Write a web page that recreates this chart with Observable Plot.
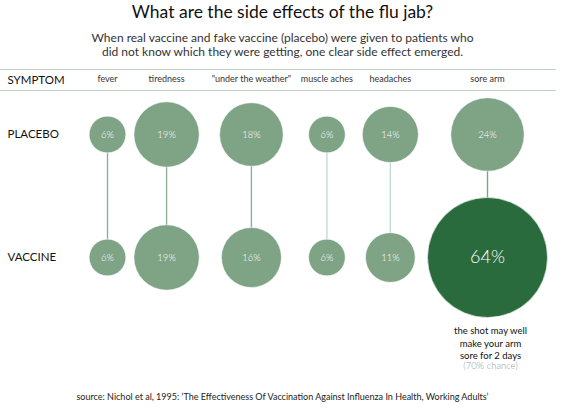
<!DOCTYPE html>
<html>
<head>
<meta charset="utf-8">
<script src="https://cdn.jsdelivr.net/npm/d3@7"></script>
<script src="https://cdn.jsdelivr.net/npm/@observablehq/plot@0.6"></script>
<style>
  body { margin: 0; background: #fff; }
  #wrap { position: relative; width: 565px; height: 413px; overflow: hidden; font-family: Lato, "Open Sans", sans-serif; color: #111; }
  .title { position: absolute; top: 0; left: 0; width: 565px; text-align: center; font-size: 17.5px; line-height: 24px; }
  .sub { position: absolute; top: 31px; left: 0; width: 565px; text-align: center; font-size: 12px; line-height: 14px; color: #333; }
  .rule { position: absolute; left: 0; width: 556px; height: 1px; background: #bcd3c0; }
  .source { position: absolute; top: 390px; left: 0; width: 565px; text-align: center; font-size: 9px; line-height: 14px; color: #222; }
  #chart { position: absolute; top: 60px; left: 0; }
</style>
</head>
<body>
<div id="wrap">
  <div class="title">What are the side effects of the flu jab?</div>
  <div class="sub">When real vaccine and fake vaccine (placebo) were given to patients who<br>did not know which they were getting, one clear side effect emerged.</div>
  <div class="rule" style="top:69px"></div>
  <div class="rule" style="top:90px"></div>
  <div id="chart"></div>
  <div class="source">source: Nichol et al, 1995: ‘The Effectiveness Of Vaccination Against Influenza In Health, Working Adults’</div>
</div>
<script>
// ---- data ----
const symptoms = ["fever", "tiredness", "\"under the weather\"", "muscle aches", "headaches", "sore arm"];
const placebo = [6, 19, 18, 6, 14, 24];
const vaccine = [6, 19, 16, 6, 11, 64];
const groups = ["PLACEBO", "VACCINE"];
const note = "the shot may well\nmake your arm\nsore for 2 days";
const noteChance = "(70% chance)";

// ---- styles ----
const light = "#7ea385";
const dark = "#2a6b3e";
const lineColors = {"muscle aches": "#c3dad4", "headaches": "#c3dad4", "sore arm": "#7ea385"};
const lineDefault = "#8fae9e";

// ---- layout: column spacing from circle sizes and label widths ----
const rPx = d3.scaleSqrt().domain([0, 64]).range([0, 60]);
const ctx = document.createElement("canvas").getContext("2d");
ctx.font = "9px Lato";
const half = symptoms.map((s, i) => Math.max(rPx(placebo[i]), rPx(vaccine[i])) + ctx.measureText(s).width / 4);
const pos = [0];
for (let i = 1; i < symptoms.length; i++) pos.push(pos[i - 1] + half[i - 1] + half[i]);
const total = pos[pos.length - 1];

const cols = symptoms.map((s, i) => ({symptom: s, x: pos[i]}));
const table = symptoms.flatMap((s, i) => [
  {symptom: s, group: "PLACEBO", value: placebo[i], x: pos[i]},
  {symptom: s, group: "VACCINE", value: vaccine[i], x: pos[i]}
]);
const big = table.filter(d => d.value >= 50);
const small = table.filter(d => d.value < 50);

const chart = Plot.plot({
  width: 565,
  height: 330,
  marginLeft: 107,
  marginRight: 78,
  marginTop: 74,
  marginBottom: 133,
  style: {fontFamily: "Lato, sans-serif", background: "transparent", overflow: "visible"},
  x: {domain: [0, total], axis: null},
  y: {type: "point", domain: groups, padding: 0, axis: null},
  r: {domain: [0, 64], range: [0, 60]},
  color: {type: "identity"},
  marks: [
    Plot.ruleX(cols, {x: "x", y1: () => "PLACEBO", y2: () => "VACCINE", stroke: d => lineColors[d.symptom] || lineDefault, strokeWidth: 1.4}),
    Plot.dot(table, {x: "x", y: "group", r: "value", fill: d => d.value >= 50 ? dark : light, stroke: "white", strokeWidth: 0.6}),
    Plot.text(small, {x: "x", y: "group", text: d => d.value + "%", fill: "white", fontSize: 9.5, fontWeight: 300}),
    Plot.text(big, {x: "x", y: "group", text: d => d.value + "%", fill: "white", fontSize: 18, fontWeight: 300}),
    Plot.text(cols, {x: "x", text: "symptom", frameAnchor: "top", dy: -59, fontSize: 9, fill: "#333"}),
    Plot.text(["SYMPTOM"], {text: d => d, frameAnchor: "top-left", dx: -100, dy: -59, textAnchor: "start", fontSize: 11.5, fill: "#111"}),
    Plot.text(groups, {y: d => d, text: d => d, frameAnchor: "left", dx: -100, textAnchor: "start", fontSize: 11.5, fill: "#111"}),
    Plot.text(big, {x: "x", y: "group", text: () => note, dx: 3, dy: 68, lineAnchor: "top", lineHeight: 1.3, fontSize: 9.5, fill: "#111"}),
    Plot.text(big, {x: "x", y: "group", text: () => noteChance, dx: 3, dy: 105, lineAnchor: "top", fontSize: 9.5, fill: "#999", fontWeight: 300})
  ]
});
document.getElementById("chart").appendChild(chart);
</script>
</body>
</html>
